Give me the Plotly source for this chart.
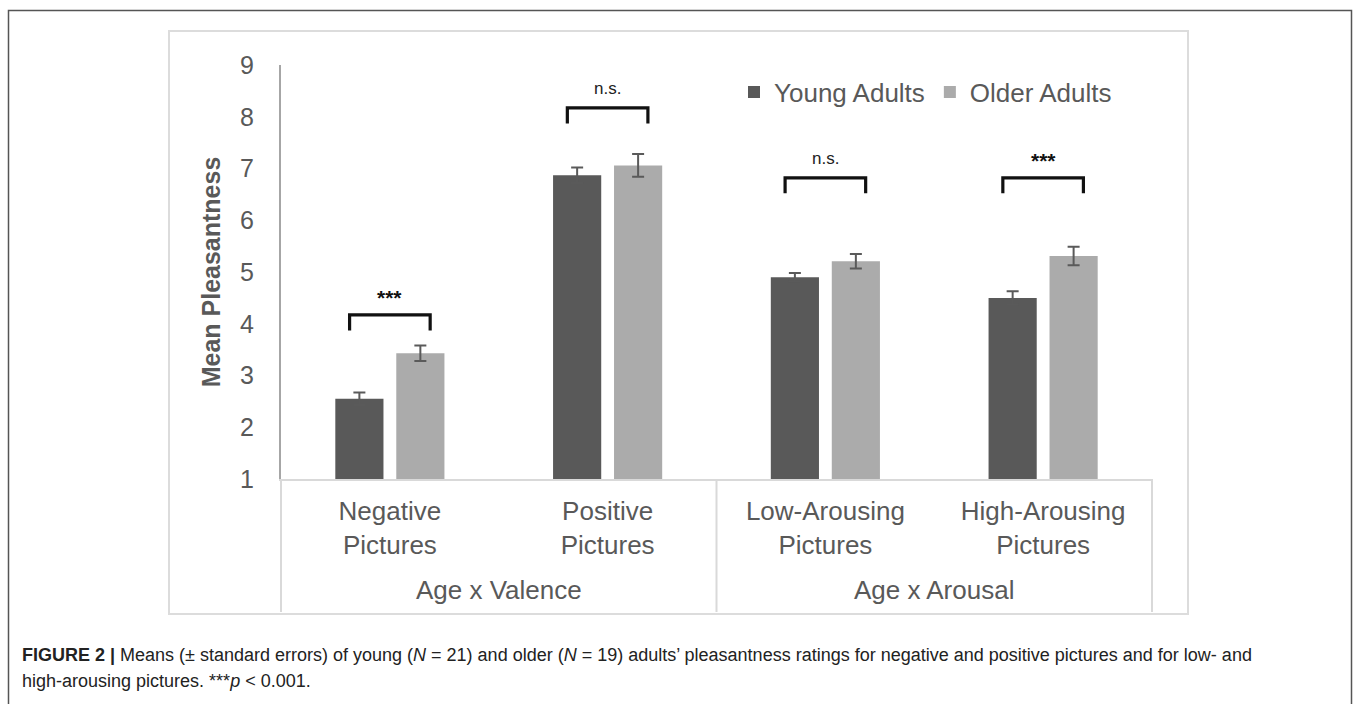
import plotly.graph_objects as go

# ---- data ----
categories = ["Negative<br>Pictures", "Positive<br>Pictures",
              "Low-Arousing<br>Pictures", "High-Arousing<br>Pictures"]
groups = ["Age x Valence", "Age x Arousal"]
group_members = [[0, 1], [2, 3]]
young = [2.55, 6.87, 4.90, 4.50]
young_se = [0.12, 0.15, 0.08, 0.13]
older = [3.43, 7.06, 5.21, 5.31]
older_se = [0.15, 0.22, 0.14, 0.18]
sig_labels = ["***", "n.s.", "n.s.", "***"]
bracket_top = [4.17, 8.17, 6.82, 6.82]
y_ticks = [1, 2, 3, 4, 5, 6, 7, 8, 9]

# ---- geometry (pixels) ----
W, H = 1358, 704
ML, MR, MT, MB = 281, 206, 65, 225
PW, PH = W - ML - MR, H - MT - MB
XR = [-0.5, len(categories) - 0.5]

def px_x(p):  # pixel -> paper x
    return (p - ML) / PW

def px_y(p):  # pixel -> paper y
    return (H - MB - p) / PH

def data_to_paper_x(v):
    return (v - XR[0]) / (XR[1] - XR[0])

FONT = "Liberation Sans, Arial, sans-serif"
TXT = "#595959"
xs = list(range(len(categories)))

fig = go.Figure()
fig.add_trace(go.Bar(
    x=xs, y=young, name="Young Adults", marker=dict(color="#595959", line=dict(width=0)),
    error_y=dict(type="data", array=young_se, color="#5a5a5a", thickness=2, width=6),
))
fig.add_trace(go.Bar(
    x=xs, y=older, name="Older Adults", marker=dict(color="#ababab", line=dict(width=0)),
    error_y=dict(type="data", array=older_se, color="#5a5a5a", thickness=2, width=6),
))

shapes = []
annotations = []

# significance brackets
half = 0.185
leg = 0.3
for i, (lab, top) in enumerate(zip(sig_labels, bracket_top)):
    x0, x1 = i - half, i + half
    shapes.append(dict(type="path", xref="x", yref="y",
                       path=f"M {x0},{top - leg} L {x0},{top} L {x1},{top} L {x1},{top - leg}",
                       line=dict(color="#111111", width=3.2)))
    if lab == "***":
        annotations.append(dict(x=i, y=top, xref="x", yref="y", text="<b>***</b>",
                                showarrow=False, yanchor="middle", yshift=17,
                                font=dict(family=FONT, size=21, color="#111111")))
    else:
        annotations.append(dict(x=i, y=top, xref="x", yref="y", text="n.s.",
                                showarrow=False, yanchor="middle", yshift=19,
                                font=dict(family=FONT, size=17, color="#222222")))

# group labels and dividers of the hierarchical category axis
div_bottom = px_y(612)
bounds = set()
for g, members in zip(groups, group_members):
    lo, hi = members[0] - 0.5, members[-1] + 0.5
    bounds.add(lo)
    bounds.add(hi)
    annotations.append(dict(x=(members[0] + members[-1]) / 2, y=px_y(590), xref="x", yref="paper",
                            text=g, showarrow=False, yanchor="middle",
                            font=dict(family=FONT, size=26, color=TXT)))
for b in sorted(bounds):
    xp = data_to_paper_x(b)
    shapes.append(dict(type="line", xref="paper", yref="paper", x0=xp, x1=xp, y0=0, y1=div_bottom,
                       line=dict(color="#d9d9d9", width=2)))

# inner chart frame
shapes.append(dict(type="rect", xref="paper", yref="paper",
                   x0=px_x(169), x1=px_x(1188), y0=px_y(614), y1=px_y(31),
                   line=dict(color="#dcdcdc", width=2), layer="below"))
# outer figure frame
shapes.append(dict(type="rect", xref="paper", yref="paper",
                   x0=px_x(8.5), x1=px_x(1351.5), y0=px_y(720), y1=px_y(10.5),
                   line=dict(color="#555555", width=1.5), layer="below"))

# caption
CAP = "Liberation Sans, Arial, sans-serif"
annotations.append(dict(x=px_x(20), y=px_y(655), xref="paper", yref="paper", xanchor="left",
                        yanchor="middle", showarrow=False, align="left",
                        text="<b>FIGURE 2 |</b> Means (± standard errors) of young (<i>N</i> = 21) and older "
                             "(<i>N</i> = 19) adults’ pleasantness ratings for negative and positive pictures "
                             "and for low- and",
                        font=dict(family=CAP, size=18, color="#222222")))
annotations.append(dict(x=px_x(20), y=px_y(681), xref="paper", yref="paper", xanchor="left",
                        yanchor="middle", showarrow=False, align="left",
                        text="high-arousing pictures. ***<i>p</i> &lt; 0.001.",
                        font=dict(family=CAP, size=18, color="#222222")))

fig.update_layout(
    width=W, height=H,
    margin=dict(l=ML, r=MR, t=MT, b=MB, autoexpand=False),
    paper_bgcolor="white", plot_bgcolor="white",
    barmode="group", bargap=0.44, bargroupgap=0.21,
    font=dict(family=FONT, color=TXT),
    showlegend=True,
    legend=dict(orientation="h", x=px_x(734), xanchor="left", y=px_y(92), yanchor="middle",
                font=dict(family=FONT, size=26, color=TXT), bgcolor="rgba(0,0,0,0)",
                traceorder="normal"),
    shapes=shapes, annotations=annotations,
    xaxis=dict(range=XR, tickmode="array", tickvals=xs, ticktext=categories,
               showgrid=False, zeroline=False, showline=True, linecolor="#d9d9d9", linewidth=2,
               ticks="", ticklabelstandoff=8, automargin=False,
               tickfont=dict(family=FONT, size=26, color=TXT), fixedrange=True),
    yaxis=dict(range=[1, 9], tickmode="array", tickvals=y_ticks,
               showgrid=False, zeroline=False, showline=True, linecolor="#a6a6a6", linewidth=2,
               ticks="", ticklabelstandoff=20, automargin=False,
               tickfont=dict(family=FONT, size=25, color=TXT),
               title=dict(text="<b>Mean Pleasantness</b>", standoff=12,
                          font=dict(family=FONT, size=25, color=TXT)), fixedrange=True),
)

fig.write_html("out.html")
